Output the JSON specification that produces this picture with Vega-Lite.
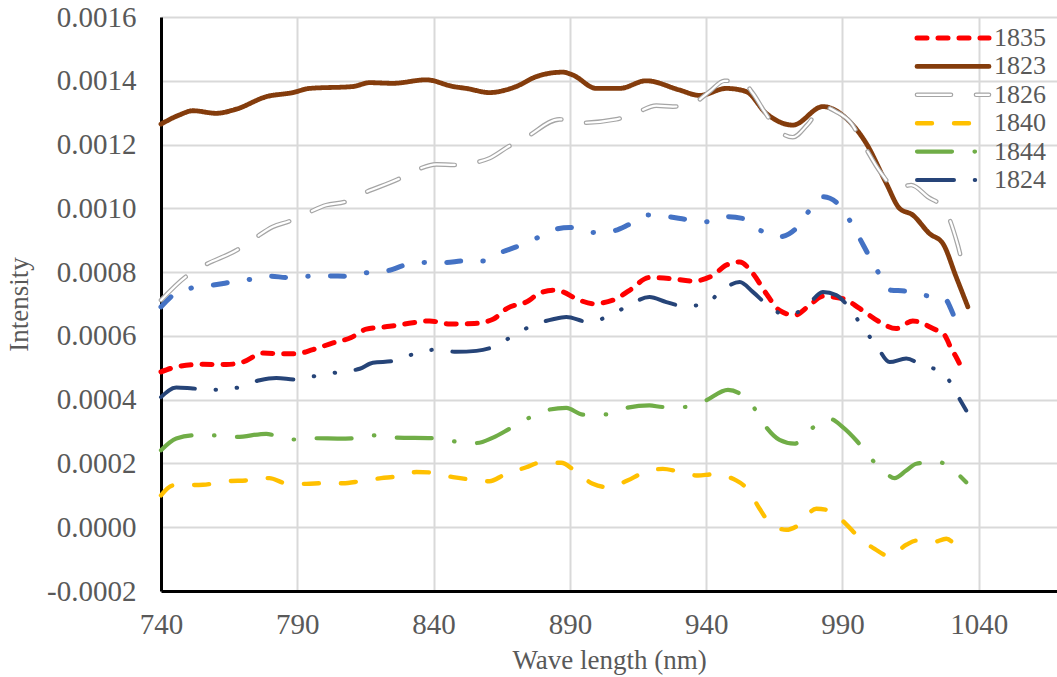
{
  "$schema": "https://vega.github.io/schema/vega-lite/v6.json",
  "width": 896,
  "height": 574,
  "autosize": "none",
  "padding": {"left": 161, "top": 17, "right": 0, "bottom": 86},
  "background": "white",
  "config": {
    "view": {"stroke": null},
    "font": "Liberation Serif",
    "axis": {
      "labelFont": "Liberation Serif",
      "labelFontSize": 29,
      "labelColor": "#595959",
      "labelFlush": false,
      "titleFont": "Liberation Serif",
      "titleFontSize": 27,
      "titleColor": "#595959",
      "titleFontWeight": "normal",
      "gridColor": "#d9d9d9",
      "gridWidth": 2,
      "ticks": false,
      "domainColor": "#000000",
      "domainWidth": 3
    }
  },
  "datasets": {
    "main": [
      {"s":"1823","x":740,"y":0.001264},{"s":"1823","x":746.8,"y":0.001293},{"s":"1823","x":751.7,"y":0.001306},{"s":"1823","x":760.3,"y":0.001298},{"s":"1823","x":767.6,"y":0.001311},{"s":"1823","x":778.6,"y":0.00135},{"s":"1823","x":788.4,"y":0.001363},{"s":"1823","x":794.5,"y":0.001376},{"s":"1823","x":810.4,"y":0.001382},{"s":"1823","x":816.5,"y":0.001394},{"s":"1823","x":825.1,"y":0.001392},{"s":"1823","x":837.3,"y":0.001403},{"s":"1823","x":847.1,"y":0.001382},{"s":"1823","x":852,"y":0.001376},{"s":"1823","x":860.5,"y":0.001363},{"s":"1823","x":870.3,"y":0.001382},{"s":"1823","x":877.7,"y":0.001413},{"s":"1823","x":887.4,"y":0.001427},{"s":"1823","x":891.1,"y":0.001418},{"s":"1823","x":899.7,"y":0.001376},{"s":"1823","x":908.2,"y":0.001376},{"s":"1823","x":918,"y":0.0014},{"s":"1823","x":930.2,"y":0.001371},{"s":"1823","x":937.6,"y":0.001354},{"s":"1823","x":947.4,"y":0.001376},{"s":"1823","x":954.7,"y":0.001366},{"s":"1823","x":962,"y":0.001298},{"s":"1823","x":971.8,"y":0.001261},{"s":"1823","x":982.8,"y":0.001319},{"s":"1823","x":991.4,"y":0.001282},{"s":"1823","x":998.7,"y":0.001204},{"s":"1823","x":1006.1,"y":0.001078},{"s":"1823","x":1010.9,"y":0.001},{"s":"1823","x":1015.8,"y":0.000979},{"s":"1823","x":1021.9,"y":0.000921},{"s":"1823","x":1026.8,"y":0.00089},{"s":"1823","x":1031.7,"y":0.000785},{"s":"1823","x":1036,"y":0.000691},

      {"s":"1826","x":740,"y":0.000712},{"s":"1826","x":749.3,"y":0.000787},{"s":"1826","x":755.4,"y":0.000819},{"s":"1826","x":768.2,"y":0.000871},{"s":"1826","x":774.3,"y":0.000906},{"s":"1826","x":781,"y":0.000942},{"s":"1826","x":787.2,"y":0.00096},{"s":"1826","x":793.9,"y":0.000986},{"s":"1826","x":800.6,"y":0.00101},{"s":"1826","x":807.4,"y":0.00102},{"s":"1826","x":814.1,"y":0.001047},{"s":"1826","x":826.9,"y":0.001091},{"s":"1826","x":833.7,"y":0.00112},{"s":"1826","x":841,"y":0.001138},{"s":"1826","x":847.7,"y":0.001136},{"s":"1826","x":855,"y":0.001143},{"s":"1826","x":860.5,"y":0.001157},{"s":"1826","x":867.3,"y":0.001193},{"s":"1826","x":874,"y":0.001223},{"s":"1826","x":886.2,"y":0.001279},{"s":"1826","x":893.6,"y":0.001268},{"s":"1826","x":907,"y":0.001279},{"s":"1826","x":914.4,"y":0.0013},{"s":"1826","x":921.7,"y":0.001322},{"s":"1826","x":927.8,"y":0.001319},{"s":"1826","x":935.1,"y":0.001329},{"s":"1826","x":941.2,"y":0.001366},{"s":"1826","x":946.7,"y":0.0014},{"s":"1826","x":953.5,"y":0.001395},{"s":"1826","x":957.1,"y":0.001361},{"s":"1826","x":961.4,"y":0.001303},{"s":"1826","x":966.3,"y":0.001246},{"s":"1826","x":971.8,"y":0.001223},{"s":"1826","x":977.3,"y":0.001264},{"s":"1826","x":982.8,"y":0.001319},{"s":"1826","x":987.7,"y":0.001303},{"s":"1826","x":993.2,"y":0.001267},{"s":"1826","x":997.5,"y":0.001204},{"s":"1826","x":1004.2,"y":0.00111},{"s":"1826","x":1009.7,"y":0.001063},{"s":"1826","x":1015.2,"y":0.001073},{"s":"1826","x":1021.3,"y":0.001036},{"s":"1826","x":1027.5,"y":0.000997},{"s":"1826","x":1032.3,"y":0.000885},{"s":"1826","x":1034.1,"y":0.000827},{"s":"1826","x":1036,"y":0.000796},

      {"s":"1835","x":740,"y":0.000487},{"s":"1835","x":746.8,"y":0.000505},{"s":"1835","x":755.4,"y":0.000511},{"s":"1835","x":764,"y":0.00051},{"s":"1835","x":770,"y":0.000518},{"s":"1835","x":777.4,"y":0.000546},{"s":"1835","x":784.7,"y":0.000544},{"s":"1835","x":789.6,"y":0.000544},{"s":"1835","x":795.7,"y":0.000557},{"s":"1835","x":803.1,"y":0.000578},{"s":"1835","x":809.8,"y":0.000595},{"s":"1835","x":815.3,"y":0.000621},{"s":"1835","x":823.9,"y":0.00063},{"s":"1835","x":832.4,"y":0.000641},{"s":"1835","x":838.5,"y":0.000647},{"s":"1835","x":845.9,"y":0.000637},{"s":"1835","x":855,"y":0.000639},{"s":"1835","x":861.8,"y":0.000652},{"s":"1835","x":866.7,"y":0.000685},{"s":"1835","x":875.2,"y":0.000712},{"s":"1835","x":877.7,"y":0.000728},{"s":"1835","x":883.8,"y":0.000743},{"s":"1835","x":887.4,"y":0.000738},{"s":"1835","x":892.3,"y":0.000717},{"s":"1835","x":898.4,"y":0.000701},{"s":"1835","x":905.8,"y":0.000712},{"s":"1835","x":911.9,"y":0.000743},{"s":"1835","x":919.2,"y":0.000783},{"s":"1835","x":926.6,"y":0.00078},{"s":"1835","x":935.1,"y":0.000772},{"s":"1835","x":942.5,"y":0.00079},{"s":"1835","x":947.4,"y":0.000822},{"s":"1835","x":952.3,"y":0.000832},{"s":"1835","x":957.1,"y":0.000796},{"s":"1835","x":962,"y":0.000733},{"s":"1835","x":966.9,"y":0.00068},{"s":"1835","x":972.4,"y":0.000665},{"s":"1835","x":977.9,"y":0.000696},{"s":"1835","x":982.8,"y":0.000724},{"s":"1835","x":990.1,"y":0.000717},{"s":"1835","x":996.3,"y":0.000686},{"s":"1835","x":1003.6,"y":0.000644},{"s":"1835","x":1009.7,"y":0.000623},{"s":"1835","x":1015.8,"y":0.000647},{"s":"1835","x":1023.2,"y":0.000623},{"s":"1835","x":1027.5,"y":0.000602},{"s":"1835","x":1029.9,"y":0.00056},{"s":"1835","x":1031.7,"y":0.000534},{"s":"1835","x":1034.1,"y":0.000492},

      {"s":"1824","x":740,"y":0.000408},{"s":"1824","x":745.6,"y":0.000438},{"s":"1824","x":751.7,"y":0.000435},{"s":"1824","x":760.3,"y":0.000431},{"s":"1824","x":768.2,"y":0.000438},{"s":"1824","x":776.2,"y":0.000461},{"s":"1824","x":782.3,"y":0.000468},{"s":"1824","x":789.6,"y":0.000463},{"s":"1824","x":797,"y":0.000475},{"s":"1824","x":804.9,"y":0.000486},{"s":"1824","x":812.9,"y":0.000497},{"s":"1824","x":817.7,"y":0.000516},{"s":"1824","x":825.1,"y":0.000521},{"s":"1824","x":833,"y":0.000544},{"s":"1824","x":841,"y":0.000557},{"s":"1824","x":848.3,"y":0.00055},{"s":"1824","x":855.7,"y":0.000553},{"s":"1824","x":861.8,"y":0.000565},{"s":"1824","x":868.9,"y":0.000599},{"s":"1824","x":875.8,"y":0.000631},{"s":"1824","x":883.8,"y":0.000652},{"s":"1824","x":888.7,"y":0.000659},{"s":"1824","x":896.6,"y":0.000644},{"s":"1824","x":904.3,"y":0.000662},{"s":"1824","x":911.3,"y":0.000694},{"s":"1824","x":919.2,"y":0.000722},{"s":"1824","x":925.4,"y":0.000706},{"s":"1824","x":931.5,"y":0.000694},{"s":"1824","x":939.4,"y":0.000698},{"s":"1824","x":945.5,"y":0.000741},{"s":"1824","x":952.3,"y":0.000769},{"s":"1824","x":957.1,"y":0.000738},{"s":"1824","x":962.6,"y":0.000696},{"s":"1824","x":969.4,"y":0.000665},{"s":"1824","x":976.5,"y":0.000689},{"s":"1824","x":982.8,"y":0.000738},{"s":"1824","x":987.7,"y":0.000728},{"s":"1824","x":993.2,"y":0.00068},{"s":"1824","x":997.5,"y":0.000626},{"s":"1824","x":1002.4,"y":0.000571},{"s":"1824","x":1007.3,"y":0.000518},{"s":"1824","x":1013.4,"y":0.000529},{"s":"1824","x":1019.5,"y":0.000506},{"s":"1824","x":1026.8,"y":0.000487},{"s":"1824","x":1031.1,"y":0.000429},{"s":"1824","x":1035.4,"y":0.000366},

      {"s":"1844","x":740,"y":0.000241},{"s":"1844","x":745.6,"y":0.000278},{"s":"1844","x":752.3,"y":0.000288},{"s":"1844","x":760.3,"y":0.000288},{"s":"1844","x":767.6,"y":0.000283},{"s":"1844","x":778.6,"y":0.000293},{"s":"1844","x":781.7,"y":0.000288},{"s":"1844","x":789,"y":0.000275},{"s":"1844","x":797,"y":0.000279},{"s":"1844","x":805.5,"y":0.000278},{"s":"1844","x":811,"y":0.000279},{"s":"1844","x":818.4,"y":0.000288},{"s":"1844","x":826.3,"y":0.000281},{"s":"1844","x":839.7,"y":0.000279},{"s":"1844","x":847.7,"y":0.000269},{"s":"1844","x":855.7,"y":0.000264},{"s":"1844","x":861.8,"y":0.000281},{"s":"1844","x":867.9,"y":0.000309},{"s":"1844","x":874.8,"y":0.000342},{"s":"1844","x":882.6,"y":0.000369},{"s":"1844","x":888.7,"y":0.000374},{"s":"1844","x":894.8,"y":0.000353},{"s":"1844","x":903,"y":0.000354},{"s":"1844","x":910.7,"y":0.000374},{"s":"1844","x":919.2,"y":0.000382},{"s":"1844","x":924.1,"y":0.000377},{"s":"1844","x":932,"y":0.000377},{"s":"1844","x":939.4,"y":0.000396},{"s":"1844","x":948,"y":0.000431},{"s":"1844","x":952.3,"y":0.000419},{"s":"1844","x":957.5,"y":0.000375},{"s":"1844","x":962,"y":0.000314},{"s":"1844","x":966.9,"y":0.000274},{"s":"1844","x":972.4,"y":0.000262},{"s":"1844","x":978.6,"y":0.000309},{"s":"1844","x":985.3,"y":0.00034},{"s":"1844","x":990.1,"y":0.000314},{"s":"1844","x":995.1,"y":0.000272},{"s":"1844","x":1000.3,"y":0.000217},{"s":"1844","x":1006.1,"y":0.000168},{"s":"1844","x":1009.1,"y":0.000154},{"s":"1844","x":1013.4,"y":0.000178},{"s":"1844","x":1017.1,"y":0.000199},{"s":"1844","x":1024.6,"y":0.000206},{"s":"1844","x":1031.1,"y":0.000176},{"s":"1844","x":1035.4,"y":0.000141},

      {"s":"1840","x":740,"y":0.0001},{"s":"1840","x":744.4,"y":0.000131},{"s":"1840","x":755.4,"y":0.000133},{"s":"1840","x":764,"y":0.000144},{"s":"1840","x":771.9,"y":0.000147},{"s":"1840","x":779.8,"y":0.000154},{"s":"1840","x":785.3,"y":0.000139},{"s":"1840","x":793.3,"y":0.000136},{"s":"1840","x":799.4,"y":0.000138},{"s":"1840","x":806.7,"y":0.000138},{"s":"1840","x":812.9,"y":0.000144},{"s":"1840","x":820.8,"y":0.000154},{"s":"1840","x":826.3,"y":0.000159},{"s":"1840","x":833.7,"y":0.000173},{"s":"1840","x":839.7,"y":0.000171},{"s":"1840","x":847.1,"y":0.000157},{"s":"1840","x":853.2,"y":0.00015},{"s":"1840","x":860.5,"y":0.000144},{"s":"1840","x":866,"y":0.000165},{"s":"1840","x":874,"y":0.000188},{"s":"1840","x":878.9,"y":0.000202},{"s":"1840","x":886.8,"y":0.000202},{"s":"1840","x":891.7,"y":0.000178},{"s":"1840","x":898.4,"y":0.000136},{"s":"1840","x":903.4,"y":0.000126},{"s":"1840","x":911.3,"y":0.000147},{"s":"1840","x":916.2,"y":0.000168},{"s":"1840","x":924.1,"y":0.000183},{"s":"1840","x":929.6,"y":0.000175},{"s":"1840","x":937,"y":0.000162},{"s":"1840","x":942.5,"y":0.000166},{"s":"1840","x":951,"y":0.000147},{"s":"1840","x":955.3,"y":0.000118},{"s":"1840","x":959.6,"y":0.000058},{"s":"1840","x":962.6,"y":0.000021},{"s":"1840","x":969.4,"y":-0.000008},{"s":"1840","x":973.6,"y":0.000005},{"s":"1840","x":980.4,"y":0.000058},{"s":"1840","x":985.3,"y":0.000052},{"s":"1840","x":991.4,"y":0.000009},{"s":"1840","x":995.6,"y":-0.000028},{"s":"1840","x":1001.8,"y":-0.000068},{"s":"1840","x":1007.3,"y":-0.000091},{"s":"1840","x":1013.4,"y":-0.000055},{"s":"1840","x":1017.1,"y":-0.000042},{"s":"1840","x":1023.2,"y":-0.000047},{"s":"1840","x":1028.1,"y":-0.000036},{"s":"1840","x":1031.1,"y":-0.000055}
    ],
    "blue": [
      {"s":"blue","x":740,"y":0.000691},{"s":"blue","x":744.4,"y":0.000728},{"s":"blue","x":751.1,"y":0.00075},{"s":"blue","x":759,"y":0.000759},{"s":"blue","x":765.2,"y":0.000768},{"s":"blue","x":772.5,"y":0.000777},{"s":"blue","x":780.5,"y":0.000787},{"s":"blue","x":786,"y":0.000783},{"s":"blue","x":793.9,"y":0.000787},{"s":"blue","x":801.8,"y":0.000788},{"s":"blue","x":808,"y":0.000787},{"s":"blue","x":815.3,"y":0.000798},{"s":"blue","x":823.9,"y":0.000806},{"s":"blue","x":828.7,"y":0.00082},{"s":"blue","x":836.7,"y":0.00083},{"s":"blue","x":844.7,"y":0.00083},{"s":"blue","x":850.7,"y":0.000835},{"s":"blue","x":858.1,"y":0.000835},{"s":"blue","x":864.8,"y":0.000862},{"s":"blue","x":870.3,"y":0.000879},{"s":"blue","x":877.9,"y":0.000907},{"s":"blue","x":885,"y":0.000935},{"s":"blue","x":889.9,"y":0.00094},{"s":"blue","x":898.4,"y":0.000924},{"s":"blue","x":905.8,"y":0.000929},{"s":"blue","x":911.9,"y":0.00095},{"s":"blue","x":918.6,"y":0.000979},{"s":"blue","x":926.6,"y":0.000973},{"s":"blue","x":932.7,"y":0.000965},{"s":"blue","x":940,"y":0.000958},{"s":"blue","x":947.4,"y":0.000974},{"s":"blue","x":953.5,"y":0.000968},{"s":"blue","x":959.6,"y":0.000932},{"s":"blue","x":966.9,"y":0.000911},{"s":"blue","x":973,"y":0.000937},{"s":"blue","x":977.3,"y":0.000987},{"s":"blue","x":982.8,"y":0.001036},{"s":"blue","x":988.3,"y":0.001015},{"s":"blue","x":992.6,"y":0.000963},{"s":"blue","x":996.3,"y":0.000906},{"s":"blue","x":999.3,"y":0.000858},{"s":"blue","x":1003,"y":0.000801},{"s":"blue","x":1007.9,"y":0.000743},{"s":"blue","x":1012.8,"y":0.000741},{"s":"blue","x":1019.5,"y":0.000728},{"s":"blue","x":1027.5,"y":0.000717},{"s":"blue","x":1030.5,"y":0.00067},{"s":"blue","x":1033.3,"y":0.000609}
    ]
  },
  "resolve": {"scale": {"color": "independent", "strokeDash": "independent", "strokeWidth": "independent"}},
  "layer": [
    {
      "data": {"name": "blue"},
      "mark": {"type": "line", "interpolate": "monotone", "color": "#4472C4", "strokeWidth": 5, "strokeCap": "round", "strokeDash": [14, 22.2, 0.5, 22.2]},
      "encoding": {
        "x": {"field": "x", "type": "quantitative", "scale": {"domain": [740, 1068.7], "nice": false, "zero": false}, "axis": {"values": [740, 790, 840, 890, 940, 990, 1040], "format": "d", "title": "Wave length (nm)", "labelPadding": 19, "titlePadding": 8, "grid": true}},
        "y": {"field": "y", "type": "quantitative", "scale": {"domain": [-0.0002, 0.0016], "nice": false, "zero": false}, "axis": {"values": [-0.0002, 0, 0.0002, 0.0004, 0.0006, 0.0008, 0.001, 0.0012, 0.0014, 0.0016], "format": ".4f", "labelExpr": "replace(datum.label, '−', '-')", "title": "Intensity", "labelPadding": 25, "titlePadding": 13, "grid": true}}
      }
    },
    {
      "data": {"name": "main"},
      "mark": {"type": "line", "interpolate": "monotone", "strokeCap": "round"},
      "encoding": {
        "x": {"field": "x", "type": "quantitative", "scale": {"domain": [740, 1068.7], "nice": false, "zero": false}, "axis": {"values": [740, 790, 840, 890, 940, 990, 1040], "format": "d", "title": "Wave length (nm)", "labelPadding": 19, "titlePadding": 8, "grid": true}},
        "y": {"field": "y", "type": "quantitative", "scale": {"domain": [-0.0002, 0.0016], "nice": false, "zero": false}, "axis": {"values": [-0.0002, 0, 0.0002, 0.0004, 0.0006, 0.0008, 0.001, 0.0012, 0.0014, 0.0016], "format": ".4f", "labelExpr": "replace(datum.label, '−', '-')", "title": "Intensity", "labelPadding": 25, "titlePadding": 13, "grid": true}},
        "color": {
          "field": "s", "type": "nominal",
          "scale": {"domain": ["1835", "1823", "1826", "1840", "1844", "1824"], "range": ["#FF0000", "#843C0C", "#A5A5A5", "#FFC000", "#70AD47", "#264478"]},
          "legend": {"title": null, "orient": "none", "legendX": 779, "legendY": 8, "labelFont": "Liberation Serif", "labelFontSize": 26, "labelColor": "#595959", "symbolType": "M-36,0H36", "symbolSize": 4, "symbolStrokeWidth": 5, "labelOffset": 28, "rowPadding": 2.4, "encoding": {"symbols": {"strokeCap": {"value": "round"}}}}
        },
        "strokeDash": {
          "field": "s", "type": "nominal",
          "scale": {"domain": ["1835", "1823", "1826", "1840", "1844", "1824"], "range": [[10, 11], [1, 0], [34, 25], [15, 22], [35, 22.5, 0.5, 22.5], [37, 20.7, 0.5, 20.7, 0.5, 20.7]]},
          "legend": {"title": null, "orient": "none", "legendX": 779, "legendY": 8, "labelFont": "Liberation Serif", "labelFontSize": 26, "labelColor": "#595959", "symbolType": "M-36,0H36", "symbolSize": 4, "symbolStrokeWidth": 5, "labelOffset": 28, "rowPadding": 2.4, "encoding": {"symbols": {"strokeCap": {"value": "round"}}}}
        },
        "strokeWidth": {
          "field": "s", "type": "nominal",
          "scale": {"domain": ["1835", "1823", "1826", "1840", "1844", "1824"], "range": [5, 4, 5.5, 5, 5, 5]},
          "legend": null
        }
      }
    },
    {
      "data": {"name": "main"},
      "transform": [{"filter": "datum.s === '1826'"}],
      "mark": {"type": "line", "interpolate": "monotone", "strokeCap": "round", "strokeWidth": 2.2, "strokeDash": [34, 25]},
      "encoding": {
        "x": {"field": "x", "type": "quantitative", "scale": {"domain": [740, 1068.7], "nice": false, "zero": false}, "axis": {"values": [740, 790, 840, 890, 940, 990, 1040], "format": "d", "title": "Wave length (nm)", "labelPadding": 19, "titlePadding": 8, "grid": true}},
        "y": {"field": "y", "type": "quantitative", "scale": {"domain": [-0.0002, 0.0016], "nice": false, "zero": false}, "axis": {"values": [-0.0002, 0, 0.0002, 0.0004, 0.0006, 0.0008, 0.001, 0.0012, 0.0014, 0.0016], "format": ".4f", "labelExpr": "replace(datum.label, '−', '-')", "title": "Intensity", "labelPadding": 25, "titlePadding": 13, "grid": true}},
        "color": {
          "field": "s", "type": "nominal",
          "scale": {"domain": ["1835", "1823", "1826", "1840", "1844", "1824"], "range": ["transparent", "transparent", "#ffffff", "transparent", "transparent", "transparent"]},
          "legend": {"title": null, "orient": "none", "legendX": 779, "legendY": 8, "labelFont": "Liberation Serif", "labelFontSize": 26, "labelColor": "transparent", "symbolType": "M-36,0H36", "symbolSize": 4, "symbolStrokeWidth": 2.2, "symbolDash": [34, 25], "labelOffset": 28, "rowPadding": 2.4, "encoding": {"symbols": {"strokeCap": {"value": "round"}}}}
        }
      }
    },
    {
      "mark": {"type": "rule", "color": "#000000", "strokeWidth": 3},
      "encoding": {
        "y": {"datum": 0.0016, "type": "quantitative", "scale": {"domain": [-0.0002, 0.0016], "nice": false, "zero": false}, "axis": {"values": [-0.0002, 0, 0.0002, 0.0004, 0.0006, 0.0008, 0.001, 0.0012, 0.0014, 0.0016], "format": ".4f", "labelExpr": "replace(datum.label, '−', '-')", "title": "Intensity", "labelPadding": 25, "titlePadding": 13, "grid": true}}
      }
    }
  ]
}
